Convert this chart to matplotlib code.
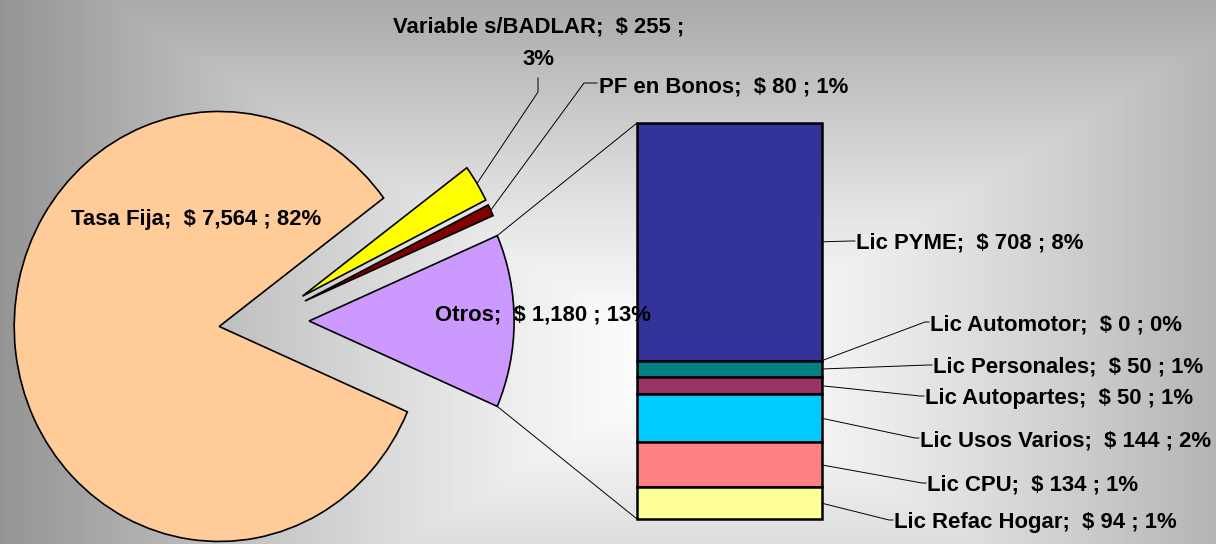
import numpy as np
import matplotlib
matplotlib.use('Agg')
import matplotlib.pyplot as plt

# datos de la torta
pie_labels = ['Tasa Fija', 'Variable s/BADLAR', 'PF en Bonos', 'Otros']
pie_values = [7564, 255, 80, 1180]
pie_texts = ['Tasa Fija;  $ 7,564 ; 82%', 'Variable s/BADLAR;  $ 255 ;', 'PF en Bonos;  $ 80 ; 1%',
             'Otros;  $ 1,180 ; 13%']
pie_colors = ['#FFCC99', '#FFFF00', '#800000', '#CC99FF']

# desglose de Otros (de arriba hacia abajo)
bar_labels = ['Lic PYME', 'Lic Automotor', 'Lic Personales', 'Lic Autopartes',
              'Lic Usos Varios', 'Lic CPU', 'Lic Refac Hogar']
bar_values = [708, 0, 50, 50, 144, 134, 94]
bar_texts = ['Lic PYME;  $ 708 ; 8%', 'Lic Automotor;  $ 0 ; 0%', 'Lic Personales;  $ 50 ; 1%',
             'Lic Autopartes;  $ 50 ; 1%', 'Lic Usos Varios;  $ 144 ; 2%', 'Lic CPU;  $ 134 ; 1%',
             'Lic Refac Hogar;  $ 94 ; 1%']
bar_colors = ['#333399', '#660066', '#008080', '#993366', '#00CCFF', '#FF8080', '#FFFF99']

# label positions (pixels: left x, center y)
bar_label_pos = [(856, 241), (930, 322), (933, 365), (925, 396), (920, 438), (927, 483), (894, 520)]

W, H = 1216, 544
font = dict(family='Liberation Sans', weight='bold', size=15.9, color='black')

fig = plt.figure(figsize=(W / 100, H / 100), dpi=100)

# background gradient
ax_bg = fig.add_axes([0, 0, 1, 1])
yy, xx = np.mgrid[0:H, 0:W]
t = np.maximum(np.abs(xx - 690) / 690, np.abs(yy - 365) / 430).clip(0, 1)
g = 1 - 0.42 * t ** 1.3
ax_bg.imshow(g, cmap='gray', vmin=0, vmax=1, extent=(0, W, H, 0), aspect='auto', interpolation='bilinear')
ax_bg.set_xlim(0, W)
ax_bg.set_ylim(H, 0)
ax_bg.axis('off')

# pie
cx, cy, rx, ry = 264, 321, 205, 215
ax_pie = fig.add_axes([0, 0, 1, 1])
ax_pie.patch.set_alpha(0)
total = sum(pie_values)
start = -pie_values[-1] / total * 180
wedges, _ = ax_pie.pie(pie_values, colors=pie_colors, explode=[0.22] * 4, startangle=start,
                       counterclock=False, radius=1,
                       wedgeprops=dict(edgecolor='black', linewidth=1.2))
ax_pie.set_aspect('auto')
ax_pie.set_xlim(-cx / rx, (W - cx) / rx)
ax_pie.set_ylim((cy - H) / ry, cy / ry)
ax_pie.axis('off')

# bar of "Otros"
ax_bar = fig.add_axes([637 / W, (H - 519) / H, 185 / W, 396 / H])
ax_bar.patch.set_alpha(0)
bottoms = []
acc = 0
for v in bar_values[::-1]:
    bottoms.append(acc)
    acc += v
bottoms = bottoms[::-1]
bars = ax_bar.bar(0, bar_values, bottom=bottoms, width=1, color=bar_colors,
                  edgecolor='black', linewidth=1.8, clip_on=False)
ax_bar.set_xlim(-0.5, 0.5)
ax_bar.set_ylim(0, sum(bar_values))
ax_bar.axis('off')

# overlay for lines and labels
ax = fig.add_axes([0, 0, 1, 1])
ax.patch.set_alpha(0)
ax.set_xlim(0, W)
ax.set_ylim(H, 0)
ax.axis('off')


def to_px(a, x, y):
    return ax.transData.inverted().transform(a.transData.transform((x, y)))


def arc_point(w, ang):
    a = np.deg2rad(ang)
    return to_px(ax_pie, w.center[0] + w.r * np.cos(a), w.center[1] + w.r * np.sin(a))


# connectors Otros -> bar
w_otros = wedges[-1]
top_left = to_px(ax_bar, -0.5, sum(bar_values))
bot_left = to_px(ax_bar, -0.5, 0)
p1 = arc_point(w_otros, w_otros.theta2)
p2 = arc_point(w_otros, w_otros.theta1)
ax.plot([p1[0], top_left[0]], [p1[1], top_left[1]], color='black', lw=0.7)
ax.plot([p2[0], bot_left[0]], [p2[1], bot_left[1]], color='black', lw=0.7)

# pie labels
ax.text(196, 217, pie_texts[0], ha='center', va='center_baseline', **font)
ax.text(543, 312, pie_texts[3], ha='center', va='center_baseline', zorder=5, **font)

w_var = wedges[1]
m = arc_point(w_var, (w_var.theta1 + w_var.theta2) / 2)
ax.plot([m[0], 538, 538], [m[1], 92, 78], color='black', lw=0.7)
ax.text(539, 25, pie_texts[1], ha='center', va='center_baseline', **font)
ax.text(539, 57, '3%', ha='center', va='center_baseline', **font)

w_pf = wedges[2]
m = arc_point(w_pf, (w_pf.theta1 + w_pf.theta2) / 2)
ax.plot([m[0], 584, 597], [m[1], 83, 83], color='black', lw=0.7)
ax.text(599, 84, pie_texts[2], ha='left', va='center_baseline', **font)

# bar labels
for b, v, txt, (tx, ty) in zip(bottoms, bar_values, bar_texts, bar_label_pos):
    s = to_px(ax_bar, 0.5, b + v / 2)
    ax.plot([s[0], tx - 5, tx - 1], [s[1], ty, ty], color='black', lw=0.7)
    ax.text(tx, ty, txt, ha='left', va='center_baseline', **font)

fig.savefig('out.png', dpi=100)
